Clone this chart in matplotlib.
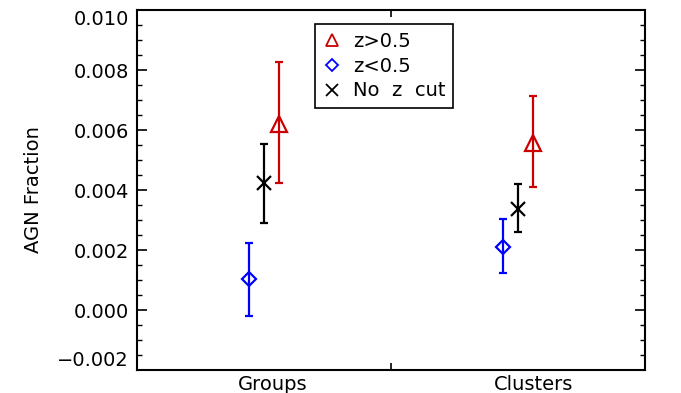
import numpy as np
import matplotlib
matplotlib.use('Agg')
import matplotlib.pyplot as plt
from matplotlib.ticker import MultipleLocator
from matplotlib.lines import Line2D

# data
categories = ['Groups', 'Clusters']
category_pos = [0.5, 1.5]
label_pos = [0.535, 1.563]

series_names = ['z>0.5', 'z<0.5', 'No  z  cut']
offsets = [0.06, -0.06, 0.0]
markers = ['^', 'D', 'x']
colors = ['#cc0000', '#0000ff', 'black']

hi_z_val = [0.00620, 0.00556]
hi_z_top = [0.00826, 0.00714]
hi_z_bot = [0.00424, 0.00409]

lo_z_val = [0.00103, 0.00211]
lo_z_top = [0.00223, 0.00303]
lo_z_bot = [-0.00019, 0.00124]

all_z_val = [0.00422, 0.00337]
all_z_top = [0.00553, 0.00419]
all_z_bot = [0.00291, 0.00259]

y_ticks = [-0.002, 0.000, 0.002, 0.004, 0.006, 0.008, 0.010]

vals = [hi_z_val, lo_z_val, all_z_val]
tops = [hi_z_top, lo_z_top, all_z_top]
bots = [hi_z_bot, lo_z_bot, all_z_bot]

plt.rcParams['font.family'] = ['DejaVu Sans']

fig = plt.figure(figsize=(6.81, 3.93), dpi=100)
ax = fig.add_axes([137/681, 23/393, 508/681, 360/393])

msizes = [11, 7.5, 10]
for i in range(3):
    x = np.array(category_pos) + offsets[i]
    v = np.array(vals[i])
    yerr = [v - np.array(bots[i]), np.array(tops[i]) - v]
    ax.errorbar(x, v, yerr=yerr, fmt='none', ecolor=colors[i], elinewidth=1.6,
                capsize=2.7, capthick=1.6)
    ax.plot(x, v, ls='none', marker=markers[i], markersize=msizes[i], mfc='none',
            mec=colors[i], mew=1.6)

ax.set_xlim(0, 2)
ax.set_ylim(-0.002, 0.010)
ax.set_yticks(y_ticks)
ax.set_yticklabels([('%.3f' % t).replace('-', '\u2212') for t in y_ticks])
ax.yaxis.set_minor_locator(MultipleLocator(0.0005))
ax.set_xticks([1])
ax.set_xticklabels([''])
ax.tick_params(axis='both', which='both', direction='in', top=True, right=True, labelsize=14)
ax.tick_params(axis='y', which='major', length=7.5, width=1.2, pad=6)
ax.tick_params(axis='y', which='minor', length=3.7, width=1)
ax.tick_params(axis='x', which='major', length=5, width=1.2)
for s in ax.spines.values():
    s.set_linewidth(1.5)
ylabels = ax.get_yticklabels()
ylabels[0].set_va('bottom')
ylabels[-1].set_va('top')

for lp, name in zip(label_pos, categories):
    ax.text(lp, -0.00215, name, ha='center', va='top', fontsize=14)

ax.set_ylabel('AGN Fraction', fontsize=14, labelpad=10)

handles = [Line2D([], [], ls='none', marker=markers[i], markersize=[9, 6.5, 9][i], mfc='none',
                  mec=colors[i], mew=1.3) for i in range(3)]
leg = ax.legend(handles, series_names, loc='upper left', bbox_to_anchor=(0.350, 0.961),
                borderaxespad=0, fancybox=False, framealpha=1, edgecolor='black',
                fontsize=14, handlelength=1.0, handletextpad=0.55, labelspacing=0.3,
                borderpad=0.4)
leg.get_frame().set_linewidth(1.2)

fig.savefig('out.png', dpi=100)
